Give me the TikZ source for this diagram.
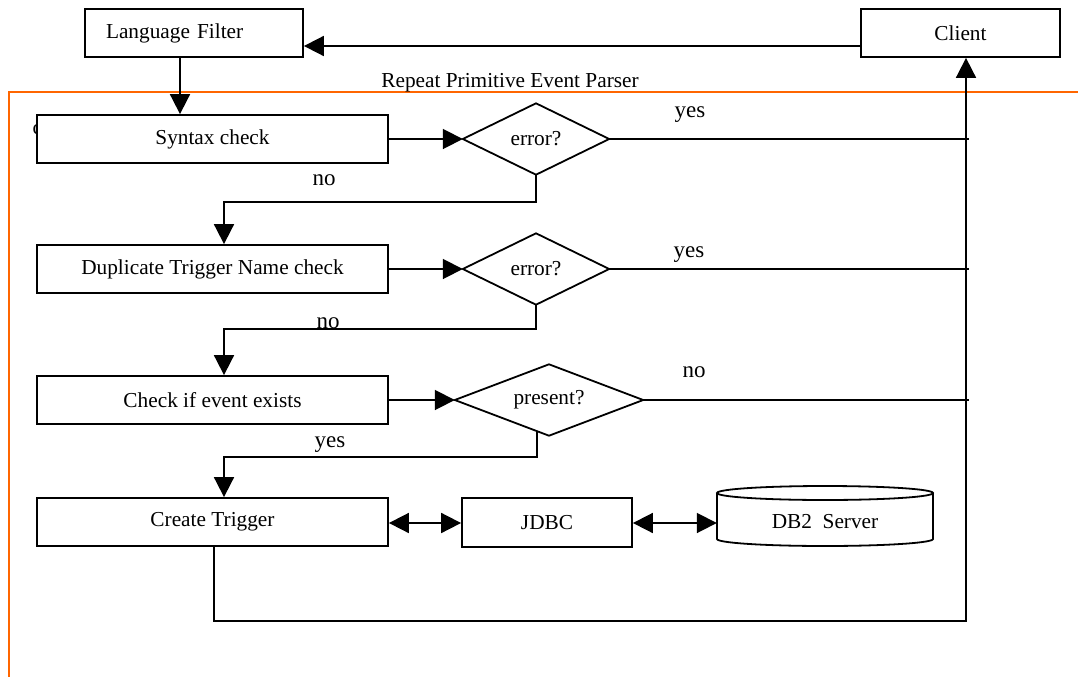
\documentclass[tikz,border=0pt]{standalone}
\usepackage{fontspec}
\setmainfont{Liberation Serif}
\usetikzlibrary{arrows.meta,calc}
\definecolor{frameorange}{RGB}{255,102,0}
\begin{document}
\begin{tikzpicture}[x=1pt,y=-1pt,
  every node/.style={font=\fontsize{21.3}{24}\selectfont},
  proc/.style={draw, fill=white, line width=1.8pt, inner sep=0pt, minimum height=48pt},
  decbox/.style={inner sep=0pt},
  outline/.style={draw, line width=1.8pt, line join=miter},
  flow/.style={line width=1.8pt},
  arr/.style={flow, -{Triangle[length=20pt,width=20pt]}},
  darr/.style={flow, {Triangle[length=20pt,width=20pt]}-{Triangle[length=20pt,width=20pt]}},
  lbl/.style={anchor=base, font=\fontsize{23}{26}\selectfont},
]
\path[use as bounding box] (0,0) rectangle (1078,677);

% parser frame
\draw[frameorange, line width=1.6pt] (1078,92) -- (9,92) -- (9,677);
\node[anchor=base] (title) at (510,87) {Repeat Primitive Event Parser};

% stray glyph partly hidden behind the first step
\node[anchor=base west, inner sep=0pt] (stray) at (32.5,134.5) {c};

% process boxes
\node[proc, minimum width=218pt, text width=176pt, align=left, inner xsep=21pt] (lf) at (194,33) {Language Filter};
\node[proc, minimum width=199pt] (client) at (960.5,33) {Client};
\node[proc, minimum width=351pt] (syn) at (212.5,139) {Syntax check};
\node[proc, minimum width=351pt] (dup) at (212.5,269) {Duplicate Trigger Name check};
\node[proc, minimum width=351pt] (chk) at (212.5,400) {Check if event exists};
\node[proc, minimum width=351pt] (ct) at (212.5,522) {Create Trigger};
\node[proc, minimum width=170pt, minimum height=49pt] (jdbc) at (547,522.5) {JDBC};

% decisions
\node[decbox, minimum width=146pt, minimum height=71pt] (d1) at (536,139) {error?};
\draw[outline] (d1.west) -- (d1.north) -- (d1.east) -- (d1.south) -- cycle;
\node[decbox, minimum width=146pt, minimum height=71pt] (d2) at (536,269) {error?};
\draw[outline] (d2.west) -- (d2.north) -- (d2.east) -- (d2.south) -- cycle;
\node[decbox, minimum width=188pt, minimum height=71pt] (d3) at (549,400) {present?};
\draw[outline] (d3.west) -- (d3.north) -- (d3.east) -- (d3.south) -- cycle;

% database
\node[inner sep=0pt, minimum width=216pt, minimum height=46pt] (db) at (825,522) {DB2\ \ Server};
\draw[outline] ($(db.center)+(-108,-29)$) -- ($(db.center)+(-108,17)$)
  arc[start angle=180, end angle=360, x radius=108pt, y radius=7pt]
  -- ($(db.center)+(108,-29)$);
\draw[outline] ($(db.center)+(0,-29)$) ellipse [x radius=108pt, y radius=7pt];

% helper coordinates
\coordinate (lfx) at (180,0);
\coordinate (cly) at (0,46);
\coordinate (ctx) at (214,0);
\coordinate (busr) at (966,621);
\coordinate (tick) at (969,0);
\coordinate (j1) at (224,202);
\coordinate (j2) at (224,329);
\coordinate (j3) at (224,457);
\coordinate (dby) at (0,523);

% connectors
\draw[arr] (client.west |- cly) -- (lf.east |- cly);
\draw[arr] (lfx |- lf.south) -- (lfx |- syn.north);
\draw[arr] (syn.east) -- (d1.west);
\draw[arr] (dup.east) -- (d2.west);
\draw[arr] (chk.east) -- (d3.west);
\draw[arr] (d1.south) |- (j1) -- (j1 |- dup.north);
\draw[arr] (d2.south) |- (j2) -- (j2 |- chk.north);
\draw[arr] ($(d3.west)!0.872!(d3.south)$) |- (j3) -- (j3 |- ct.north);
\draw[flow] (d1.east) -- (d1.east -| tick);
\draw[flow] (d2.east) -- (d2.east -| tick);
\draw[flow] (d3.east) -- (d3.east -| tick);
\draw[arr] (ctx |- ct.south) |- (busr) -- (busr |- client.south);
\draw[darr] (ct.east |- dby) -- (jdbc.west |- dby);
\draw[darr] (jdbc.east |- dby) -- (db.west |- dby);

% branch labels
\node[lbl] (y1) at (690,117) {yes};
\node[lbl] (n1) at (324,185) {no};
\node[lbl] (y2) at (689,257) {yes};
\node[lbl] (n2) at (328,328) {no};
\node[lbl] (n3) at (694,377) {no};
\node[lbl] (y3) at (330,447) {yes};
\end{tikzpicture}
\end{document}
